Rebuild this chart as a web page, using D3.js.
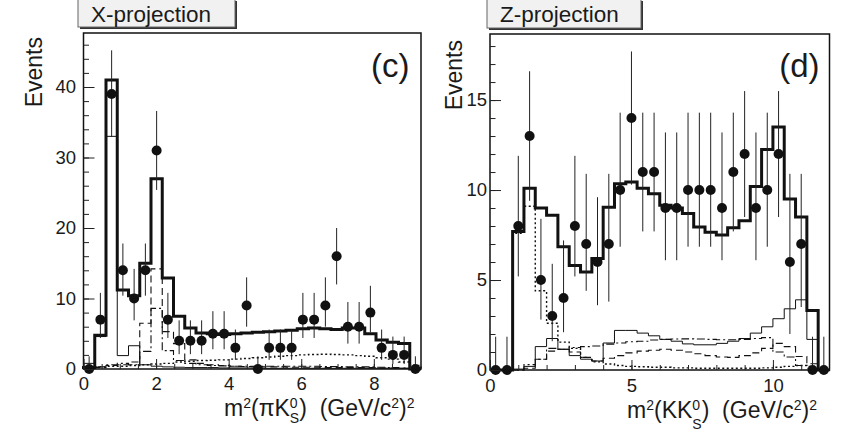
<!DOCTYPE html>
<html><head><meta charset="utf-8">
<script src="https://cdn.jsdelivr.net/npm/d3@7"></script>
<style>
html,body{margin:0;padding:0;background:#fff;}
svg{display:block;font-family:"Liberation Sans",Arial,Helvetica,sans-serif;}
text{fill:#1a1a1a;}
</style></head><body>
<svg id="c" width="842" height="435"></svg>
<script>
// ---------------- DATA ----------------
// X-projection : m^2(pi K0S), 30 bins of 0.31 GeV^2
const xBinWidth = 0.31;
const xNBins = 30;
const xData   = [0,7,39,14,10,14,31,7,4,4,4,5,5,3,9,0,3,3,3,7,7,9,16,6,6,8,3,2,2,0];
const xErrHi  = [1.8,10.8,45.2,17.8,14.2,17.8,36.6,10.8,6.9,6.9,6.9,8.2,8.2,5.6,13.0,1.8,5.6,5.6,5.6,10.8,10.8,13.0,20.0,9.5,9.5,11.8,5.6,4.6,4.6,1.8];
const xErrLo  = [0,4.4,32.9,10.4,6.9,10.4,25.4,4.4,2.1,2.1,2.1,2.8,2.8,1.3,6.0,0,1.3,1.3,1.3,4.4,4.4,6.0,12.0,3.6,3.6,5.2,1.3,0.7,0.7,0];
const xTotal  = [0.2,4.8,41,11.2,10.4,15,27,12.9,7.5,5.8,5.1,5.0,4.9,5.0,5.1,5.2,5.3,5.4,5.5,5.7,5.8,5.7,5.6,5.8,5.8,5.0,4.1,3.8,3.6,0];
const xThin   = [0.8,4.6,33,1.9,3.3,0.6,0.4,0.3,0.25,0.2,0.2,0.2,0.15,0.15,0.15,0.1,0.1,0.1,0.1,0.1,0.1,0.1,0.1,0.1,0.1,0.1,0.1,0.1,0.1,0];
const xDashed = [0.1,0.2,0.5,0.6,1.0,6.5,14.2,5.3,3.6,1.3,0.8,0.6,0.5,0.4,0.35,0.3,0.3,0.3,0.25,0.25,0.25,0.2,0.2,0.2,0.2,0.2,0.15,0.15,0.1,0];
const xDashDot= [0.1,0.3,0.6,0.8,0.6,2.5,8.6,2.6,1.2,0.8,0.6,0.5,0.45,0.4,0.4,0.4,0.4,0.4,0.4,0.4,0.4,0.35,0.35,0.3,0.3,0.3,0.25,0.2,0.15,0];
const xDotted = [0.2,0.3,0.4,0.4,0.5,0.6,0.7,0.8,1.0,1.1,1.2,1.25,1.3,1.4,1.5,1.6,1.7,1.8,1.9,2.0,2.05,2.1,2.05,2.0,1.9,1.8,1.6,1.4,1.0,0.5];
const xTicksMajor = [0,2,4,6,8];
const xYTicksMajor = [0,10,20,30,40];

// Z-projection : m^2(K K0S), 30 bins of 0.4 GeV^2
const zBinWidth = 0.4;
const zNBins = 30;
const zData   = [0,0,8,13,5,3,4,8,7,6,7,10,14,11,11,9,9,10,10,10,9,11,12,9,10,12,6,7,0,0];
const zErrHi  = [1.85,1.85,11.9,16.6,8.4,5.9,7.2,11.9,10.9,9.6,10.9,14.3,17.7,14.3,14.3,13.2,13.2,14.3,14.3,14.3,13.2,14.3,15.5,13.2,14.3,15.5,10.9,10.9,1.85,1.85];
const zErrLo  = [0,0,5.2,9.4,2.8,1.6,2.1,5.2,4.4,3.6,3.8,6.85,10.3,7.7,7.7,6.1,6.1,6.85,6.85,6.85,6.1,7.7,8.5,6.1,6.85,8.5,2.0,3.5,0,0];
const zTotal  = [0,0,7.7,10.1,9.0,8.6,6.85,5.8,5.45,6.2,9.05,10.35,10.45,10.1,9.8,9.15,9.0,8.7,7.95,7.65,7.5,7.9,8.3,10.2,12.25,13.5,9.5,8.5,3.3,0];
const zThin   = [0,0,0.05,0.2,1.3,1.75,1.15,0.8,0.6,0.5,1.5,2.2,2.2,2.05,1.9,1.7,1.6,1.45,1.4,1.4,1.48,1.6,1.75,2.05,2.4,2.85,3.4,3.9,1.7,0];
const zDashed = [0,0,0,0.1,0.6,1.05,1.15,1.0,0.7,0.5,0.65,0.8,0.95,1.05,1.1,1.15,1.1,1.0,0.9,0.8,0.72,0.7,0.8,0.95,1.2,1.48,1.3,0.75,0.35,0];
const zDashDot= [0,0,0,0.3,0.6,1.2,1.15,1.25,1.3,1.33,1.44,1.5,1.57,1.6,1.67,1.7,1.72,1.73,1.72,1.7,1.68,1.68,1.7,1.75,1.8,1.0,0.72,0.25,0.1,0];
const zDotted = [0,0,7.6,9.1,4.4,2.6,1.55,1.2,0.7,0.45,0.33,0.25,0.2,0.18,0.15,0.15,0.12,0.12,0.1,0.1,0.1,0.1,0.1,0.1,0.12,0.15,0.2,0.25,0.2,0];
const zTicksMajor = [0,5,10];
const zYTicksMajor = [0,5,10,15];

// ---------------- DRAWING ----------------
const svg = d3.select("#c");

const styles = {
  total:   {w:3,   dash:null},
  thin:    {w:1,   dash:null},
  dashed:  {w:1.1, dash:"7,4"},
  dashdot: {w:1.1, dash:"8,3,2,3"},
  dotted:  {w:1.4, dash:"2,2.5"}
};

function drawPanel(p) {
  const g = svg.append("g");
  const x = d3.scaleLinear().domain([0, p.nBins * p.binW]).range([p.left, p.right]);
  const y = d3.scaleLinear().domain([0, p.yMax]).range([p.bottom, p.top]);

  // histograms
  const line = d3.line().x(d => x(d[0])).y(d => y(d[1])).curve(d3.curveStepAfter);
  function hist(vals, st) {
    const pts = [[0, 0]];
    vals.forEach((v, i) => pts.push([i * p.binW, v]));
    pts.push([vals.length * p.binW, vals[vals.length - 1]]);
    pts.push([vals.length * p.binW, 0]);
    g.append("path").attr("d", line(pts)).attr("fill", "none")
      .attr("stroke", "#111").attr("stroke-width", st.w)
      .attr("stroke-dasharray", st.dash)
      .attr("stroke-linejoin", "miter");
  }
  hist(p.dotted, styles.dotted);
  hist(p.dashdot, styles.dashdot);
  hist(p.dashed, styles.dashed);
  hist(p.thin, styles.thin);
  hist(p.total, styles.total);

  // data points with error bars
  const centers = p.data.map((v, i) => (i + 0.5) * p.binW);
  g.selectAll(null).data(p.data).enter().append("line")
    .attr("x1", (d, i) => x(centers[i])).attr("x2", (d, i) => x(centers[i]))
    .attr("y1", (d, i) => y(p.errLo[i])).attr("y2", (d, i) => y(p.errHi[i]))
    .attr("stroke", "#222").attr("stroke-width", 1);
  g.selectAll(null).data(p.data).enter().append("circle")
    .attr("cx", (d, i) => x(centers[i])).attr("cy", d => y(d))
    .attr("r", 5).attr("fill", "#111");

  // frame
  g.append("rect").attr("x", p.left).attr("y", p.top)
    .attr("width", p.right - p.left).attr("height", p.bottom - p.top)
    .attr("fill", "none").attr("stroke", "#111").attr("stroke-width", 1.5);

  // axes (ticks inward)
  const fmt = d3.format("d");
  const yMaj = g.append("g").attr("transform", `translate(${p.left},0)`)
    .call(d3.axisLeft(y).tickValues(p.yMajor).tickSize(-11).tickPadding(p.yPad).tickFormat(fmt));
  const yMin = g.append("g").attr("transform", `translate(${p.left},0)`)
    .call(d3.axisLeft(y).tickValues(d3.range(0, p.yMax, p.yMinorStep)).tickSize(-5.5).tickFormat(""));
  const xMaj = g.append("g").attr("transform", `translate(0,${p.bottom})`)
    .call(d3.axisBottom(x).tickValues(p.xMajor).tickSize(-10).tickPadding(p.xPad).tickFormat(fmt));
  const xMin = g.append("g").attr("transform", `translate(0,${p.bottom})`)
    .call(d3.axisBottom(x).tickValues(d3.range(0, p.nBins * p.binW, p.xMinorStep)).tickSize(-5).tickFormat(""));
  [yMaj, yMin, xMaj, xMin].forEach(a => {
    a.select(".domain").remove();
    a.selectAll(".tick line").attr("stroke", "#222").attr("stroke-width", 1);
    a.selectAll(".tick text").attr("font-size", 18.5).attr("fill", "#1a1a1a")
      .attr("font-family", '"Liberation Sans",Arial,sans-serif');
  });

  // y title
  svg.append("text").attr("transform", `translate(${p.yTitleX},${p.yTitleY}) rotate(-90)`)
    .attr("text-anchor", "end").attr("font-size", 23).text("Events");

  // panel label
  svg.append("text").attr("x", p.tagX).attr("y", 76.5).attr("text-anchor", "end")
    .attr("font-size", 33).text(p.tag);

  // title box
  svg.append("rect").attr("x", p.boxX + 2).attr("y", 1).attr("width", p.boxW).attr("height", p.boxH)
    .attr("fill", "#333");
  svg.append("rect").attr("x", p.boxX).attr("y", -1).attr("width", p.boxW).attr("height", p.boxH)
    .attr("fill", "#f1f1f1").attr("stroke", "#666").attr("stroke-width", 1);
  svg.append("text").attr("x", p.boxX + 13).attr("y", 22).attr("font-size", 22.5).text(p.title);

  // x title with super/subscripts
  const t = svg.append("text").attr("x", p.xTitleX).attr("y", p.xTitleY)
    .attr("font-size", 23).style("white-space", "pre");
  const S = 14, up = -8;
  t.append("tspan").text("m");
  t.append("tspan").attr("dy", up).attr("font-size", S).text("2");
  t.append("tspan").attr("dy", -up).text("(" + p.pair);
  t.append("tspan").attr("dy", up).attr("font-size", S).text("0");
  t.append("tspan").attr("dx", -0.556 * S).attr("dy", -up + p.subDrop).attr("font-size", S).text("S");
  t.append("tspan").attr("dy", -p.subDrop).text(")  (GeV/c");
  t.append("tspan").attr("dy", up).attr("font-size", S).text("2");
  t.append("tspan").attr("dy", -up).text(")");
  t.append("tspan").attr("dy", up).attr("font-size", S).text("2");
}

drawPanel({
  left: 83.5, right: 421, top: 33, bottom: 369,
  nBins: xNBins, binW: xBinWidth, yMax: 47.66,
  data: xData, errHi: xErrHi, errLo: xErrLo,
  total: xTotal, thin: xThin, dashed: xDashed, dashdot: xDashDot, dotted: xDotted,
  yMajor: xYTicksMajor, yMinorStep: 2, xMajor: xTicksMajor, xMinorStep: 0.5, yPad: 7.5, xPad: 8,
  yTitleX: 42, yTitleY: 37, tag: "(c)", tagX: 409.5,
  boxX: 78, boxW: 157, boxH: 28, title: "X-projection",
  xTitleX: 224, xTitleY: 415.5, pair: "\u03C0K", subDrop: 7
});

drawPanel({
  left: 490, right: 829.5, top: 34, bottom: 370,
  nBins: zNBins, binW: zBinWidth, yMax: 18.67,
  data: zData, errHi: zErrHi, errLo: zErrLo,
  total: zTotal, thin: zThin, dashed: zDashed, dashdot: zDashDot, dotted: zDotted,
  yMajor: zYTicksMajor, yMinorStep: 1, xMajor: zTicksMajor, xMinorStep: 1, yPad: 3, xPad: 9,
  yTitleX: 462, yTitleY: 40, tag: "(d)", tagX: 819.5,
  boxX: 487, boxW: 154, boxH: 29, title: "Z-projection",
  xTitleX: 627, xTitleY: 418, pair: "KK", subDrop: 11
});
</script>
</body></html>
